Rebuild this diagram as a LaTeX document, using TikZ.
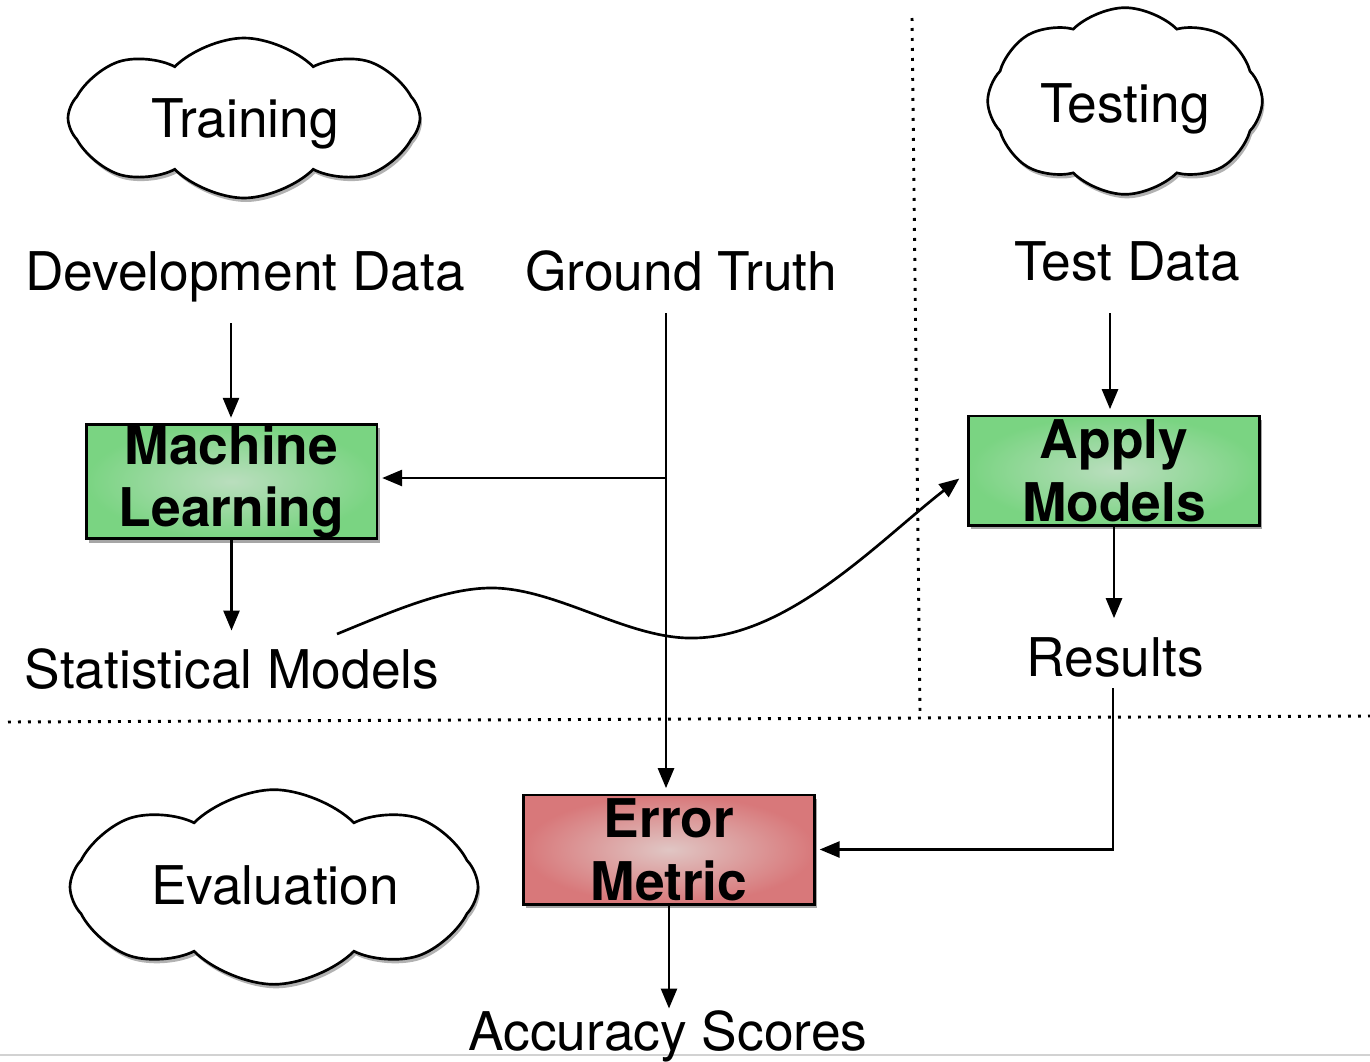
\documentclass[tikz,border=0pt]{standalone}
\usepackage{fontspec}
\setmainfont{TeX Gyre Heros}
\usetikzlibrary{shapes.symbols,arrows.meta,shadows,calc}

\definecolor{gout}{RGB}{122,212,130}
\definecolor{gin}{RGB}{186,222,190}
\definecolor{rout}{RGB}{216,120,122}
\definecolor{rin}{RGB}{224,198,196}

\begin{document}
\begin{tikzpicture}[x=0.75pt,y=-0.75pt,
 txt/.style={font=\fontsize{40}{47}\selectfont, inner sep=0pt, anchor=base},
 box/.style={draw=black, line width=2pt, minimum width=218pt, minimum height=82pt, inner sep=0pt, align=center,
   font=\fontsize{40}{47}\selectfont\bfseries,
   drop shadow={shadow xshift=2pt, shadow yshift=-3pt, opacity=0.35, fill=black}},
 greenbox/.style={box, inner color=gin, outer color=gout},
 redbox/.style={box, inner color=rin, outer color=rout},
 cloudnode/.style={cloud, draw=black, line width=2pt, fill=white, cloud puffs=8, cloud puff arc=90,
   inner sep=0pt, font=\fontsize{40}{47}\selectfont,
   drop shadow={shadow xshift=1.5pt, shadow yshift=-3pt, opacity=0.3, fill=black}},
 arr/.style={line width=2pt, -{Triangle[length=15pt,width=12pt]}},
 ln/.style={line width=2pt},
 dots/.style={line width=2.2pt, dash pattern=on 2.2pt off 5.3pt}
]
\fill[white] (0,0) rectangle (1370,1061);
\useasboundingbox (0,0) rectangle (1370,1061);

% separators
\draw[gray!35, line width=1pt] (0,1055) -- (1370,1055);
\draw[dots] (8,722) -- (1370,716);
\draw[dots] (912,18) -- (920,712);

% clouds
\node[cloudnode, minimum width=264pt, minimum height=120pt] (training) at (244,118) {};
\node[txt] at (245,137) {Training};
\node[cloudnode, minimum width=206pt, minimum height=140pt] (testing) at (1125,101) {};
\node[txt] at (1125,122) {Testing};
\node[cloudnode, minimum width=306pt, minimum height=146pt] (evaluation) at (274,887) {};
\node[txt] at (275,904) {Evaluation};

% text nodes
\node[txt] (dev) at (245,290) {Development Data};
\node[txt] (gt) at (681,290) {Ground Truth};
\node[txt] (test) at (1127,280) {Test Data};
\node[txt] (stat) at (232,688) {Statistical Models};
\node[txt] (res) at (1115,676) {Results};
\node[txt] (acc) at (668,1050) {Accuracy Scores};

% boxes
\node[greenbox] (ml) at (231.5,481.5) {Machine\\Learning};
\node[greenbox] (apply) at (1114,470.5) {Apply\\Models};
\node[redbox] (err) at (669,849.5) {Error\\Metric};

% connector coordinates
\coordinate (devfoot) at (231,323);
\coordinate (gtfoot) at (666,313);
\coordinate (branch) at (666,478);
\coordinate (testfoot) at (1110,313);
\coordinate (resfoot) at (1113,688);
\coordinate (statstart) at (337,634);

% connectors
\draw[arr, shorten >=4pt] (devfoot) -- (devfoot |- ml.north);
\draw[arr, shorten >=4pt] (ml.south) -- ++(0,96);
\draw[ln] (gtfoot) -- (branch);
\draw[arr, shorten >=3pt] (branch) -- (branch -| ml.east);
\draw[arr, shorten >=4pt] (branch) -- (branch |- err.north);
\draw[arr, shorten >=4pt] (testfoot) -- (testfoot |- apply.north);
\draw[arr, shorten >=4pt] (apply.south) -- ++(0,97);
\draw[arr, shorten >=3pt] (resfoot) -- (resfoot |- err.east) -- (err.east);
\draw[arr] (err.south) -- ++(0,103);
\draw[arr] (statstart) .. controls (400,608) and (450,587) .. (495,588)
  .. controls (560,590) and (630,640) .. (695,638)
  .. controls (790,636) and (880,540) .. ($(apply.west)+(-6pt,-6pt)$);
\end{tikzpicture}
\end{document}
